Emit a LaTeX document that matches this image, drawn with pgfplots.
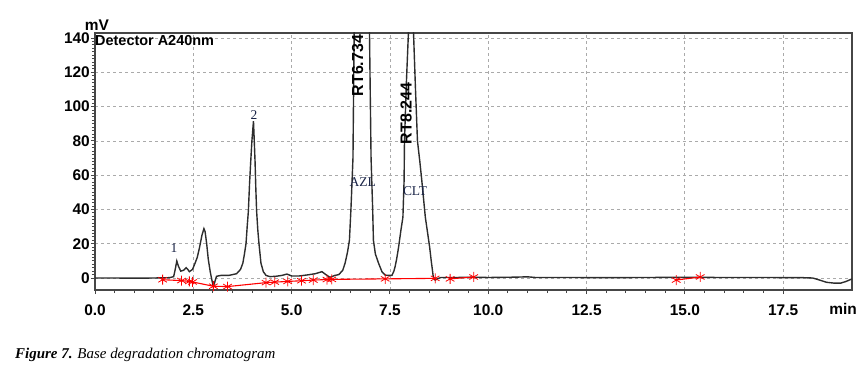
\documentclass[border=0pt]{standalone}
\usepackage{fontspec}
\setmainfont{Liberation Sans}
\newfontfamily\seriffont{Liberation Serif}
\usepackage{pgfplots}
\pgfplotsset{compat=1.18}
\definecolor{framegray}{RGB}{70,70,70}
\definecolor{tracegray}{RGB}{45,45,45}
\definecolor{navy}{RGB}{25,35,70}
\definecolor{gridgray}{RGB}{170,170,170}
\begin{document}
\begin{tikzpicture}
\useasboundingbox (-95bp,-99bp) rectangle (773bp,290bp);
\begin{axis}[
  at={(0,0)}, anchor=south west,
  scale only axis, width=757bp, height=257bp,
  xmin=0, xmax=19.25, ymin=-7, ymax=143,
  xtick={0,2.5,...,17.5}, ytick={0,20,...,140},
  minor x tick num=4, minor y tick num=9,
  tick pos=left, tick align=outside,
  major tick length=4bp, minor tick length=3bp,
  every tick/.style={framegray, line width=1bp},
  axis line style={framegray, line width=1.8bp},
  grid=major,
  major grid style={gridgray, dash pattern=on 3bp off 3bp, line width=0.8bp},
  /pgf/number format/assume math mode=true,
  ticklabel style={font=\bfseries\fontsize{15.5}{15.5}\selectfont, inner sep=0pt},
  xticklabel style={/pgf/number format/fixed, /pgf/number format/fixed zerofill, /pgf/number format/precision=1, anchor=north, yshift=-11bp},
  yticklabel style={anchor=east, xshift=-1bp},
  clip=true,
]
% chromatogram trace
\addplot[tracegray, line width=1.4bp, mark=none] coordinates {
(0,0) (0.5,0) (1.0,-0.1) (1.5,0) (1.9,0.2) (2.0,0.8) (2.04,5) (2.08,9.9) (2.12,7) (2.18,4)
(2.25,4.5) (2.32,6) (2.36,5) (2.40,3.7) (2.48,5) (2.55,9) (2.60,12) (2.66,18) (2.72,25)
(2.77,28.8) (2.80,27) (2.84,20) (2.88,11) (2.93,3.7) (2.97,-1) (3.01,-5) (3.05,-2) (3.09,1)
(3.2,1.5) (3.4,1.5) (3.6,2.5) (3.70,5) (3.76,8.7) (3.80,14) (3.84,20) (3.87,30) (3.90,39)
(3.93,55) (3.96,68) (3.99,80) (4.03,91.6) (4.05,80) (4.07,68) (4.09,52) (4.11,39) (4.14,28)
(4.17,20) (4.22,8.7) (4.28,3.7) (4.35,1.5) (4.45,0.8) (4.6,1) (4.75,1.5) (4.88,2.3) (5.0,1.2)
(5.2,1.2) (5.4,1.8) (5.6,2.5) (5.77,3.7) (5.9,1.5) (5.98,0.4) (6.10,1.5)
(6.20,2) (6.30,4.5) (6.36,8.7) (6.42,15) (6.47,22) (6.51,41) (6.56,70) (6.59,143) (6.65,400)
(6.78,600) (6.92,400) (6.98,143) (7.02,70) (7.06,41) (7.08,22) (7.13,14) (7.21,8.7) (7.30,3.5)
(7.38,1.7) (7.45,1.5)
(7.55,1.5) (7.60,4) (7.63,6.5) (7.67,11) (7.72,18) (7.78,28) (7.83,35.5) (7.86,57) (7.87,80)
(7.92,115) (7.97,143) (8.03,300) (8.10,143) (8.15,110) (8.20,80) (8.26,68) (8.31,57) (8.36,45)
(8.40,35.5) (8.46,26) (8.51,18) (8.55,10) (8.57,6.5) (8.60,1) (8.65,-1.2) (8.72,-0.3) (8.8,0.3)
(9.2,0.3) (9.6,0.5) (10.0,0.3) (10.7,0.5) (11.0,0.7) (11.2,0.3) (12,0.3) (13,0.2) (14,0.3)
(15,0.4) (16,0.3) (17,0.3) (18,0.2) (18.25,0) (18.4,-1) (18.6,-2.5) (18.8,-3) (18.96,-3)
(19.1,-2) (19.25,-0.5)
};
% integration baselines
\addplot[red, line width=1.1bp, mark=asterisk, mark size=5bp, mark options={line width=0.8bp}] coordinates {
(1.72,-1.0) (2.20,-1.5) (2.40,-2.0) (2.48,-2.3) (3.01,-4.8) (3.37,-5.0) (4.35,-2.7) (4.57,-2.4)
(4.90,-2.0) (5.25,-1.6) (5.55,-1.2) (5.90,-0.9) (6.02,-0.8) (7.38,-0.5) (8.65,-0.2)
};
\addplot[red, line width=1.1bp, mark=asterisk, mark size=5bp, mark options={line width=0.8bp}] coordinates {(9.03,-0.5) (9.63,0.6)};
\addplot[red, line width=1.1bp, mark=asterisk, mark size=5bp, mark options={line width=0.8bp}] coordinates {(14.78,-1.2) (15.39,0.6)};
% annotations
\node[anchor=west, inner sep=0pt, font=\bfseries\fontsize{14.5}{14.5}\selectfont] at (axis cs:0,138.5) {Detector A240nm};
\node[rotate=90, inner sep=0pt, font=\bfseries\fontsize{16}{16}\selectfont] at (axis cs:6.68,124) {RT6.734};
\node[rotate=90, inner sep=0pt, font=\bfseries\fontsize{16}{16}\selectfont] at (axis cs:7.91,96) {RT8.244};
\node[navy, inner sep=0pt, font=\seriffont\fontsize{13.5}{13.5}\selectfont] at (axis cs:6.81,56) {AZL};
\node[navy, inner sep=0pt, font=\seriffont\fontsize{13.5}{13.5}\selectfont] at (axis cs:8.14,51) {CLT};
\node[navy, inner sep=0pt, font=\seriffont\fontsize{13.5}{13.5}\selectfont] at (axis cs:2.01,17.5) {1};
\node[navy, inner sep=0pt, font=\seriffont\fontsize{13.5}{13.5}\selectfont] at (axis cs:4.04,95) {2};
\end{axis}
\node[font=\bfseries\fontsize{15.5}{15.5}\selectfont, inner sep=0pt] at (2bp,265bp) {mV};
\node[font=\bfseries\fontsize{15.5}{15.5}\selectfont, inner sep=0pt] at (748bp,-19bp) {min};
\node[anchor=west, inner sep=0pt, font=\seriffont\itshape\fontsize{15}{15}\selectfont] at (-80bp,-65bp) {\textbf{Figure 7.} Base degradation chromatogram};
\end{tikzpicture}
\end{document}
